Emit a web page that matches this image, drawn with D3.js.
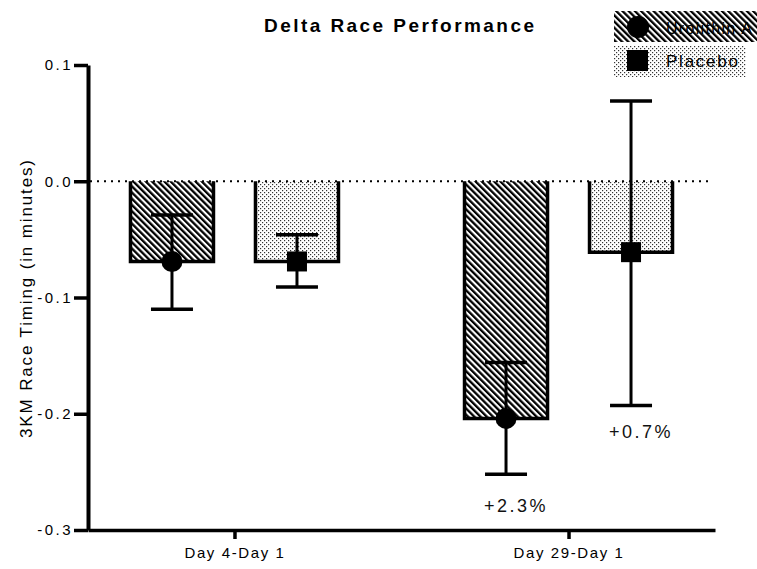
<!DOCTYPE html>
<html>
<head>
<meta charset="utf-8">
<script src="https://cdn.jsdelivr.net/npm/d3@7"></script>
<style>
  body { margin: 0; background: #fff; }
  svg { display: block; font-family: "Liberation Sans", Arial, sans-serif; }
</style>
</head>
<body>
<div id="chart"></div>
<script>
// Delta Race Performance — grouped bars with error bars
const categories = ["Day 4-Day 1", "Day 29-Day 1"];
const series = ["Urolithin A", "Placebo"];
const uroMean = [-0.069, -0.204];
const uroLow = [-0.110, -0.252];
const uroHigh = [-0.029, -0.156];
const placeboMean = [-0.069, -0.061];
const placeboLow = [-0.091, -0.193];
const placeboHigh = [-0.046, 0.069];
const uroNote = ["", "+2.3%"];
const placeboNote = ["", "+0.7%"];
const yTicks = [-0.3, -0.2, -0.1, 0.0, 0.1];

(function () {
  const W = 757, H = 569;
  const svg = d3.select("#chart").append("svg")
    .attr("width", W).attr("height", H);

  const defs = svg.append("defs");
  const hatch = defs.append("pattern")
    .attr("id", "hatch")
    .attr("patternUnits", "userSpaceOnUse")
    .attr("width", 4.4).attr("height", 10)
    .attr("patternTransform", "rotate(-45)");
  hatch.append("rect").attr("width", 4.4).attr("height", 10).attr("fill", "#fff");
  hatch.append("rect").attr("width", 2.3).attr("height", 10).attr("fill", "#000");

  const dots = defs.append("pattern")
    .attr("id", "dots")
    .attr("patternUnits", "userSpaceOnUse")
    .attr("width", 4).attr("height", 4);
  dots.append("rect").attr("width", 4).attr("height", 4).attr("fill", "#fff");
  dots.append("rect").attr("x", 0).attr("y", 0).attr("width", 1.2).attr("height", 1.2).attr("fill", "#333");
  dots.append("rect").attr("x", 2).attr("y", 2).attr("width", 1.2).attr("height", 1.2).attr("fill", "#333");

  const x0 = d3.scalePoint().domain(categories).range([88, 715]).padding(0.4385);
  const x1 = d3.scaleBand().domain(series).range([-104, 104]).paddingInner(0.336);
  const y = d3.scaleLinear().domain([-0.3, 0.1]).range([530, 65]);

  const rows = [];
  categories.forEach((c, i) => {
    rows.push({ cat: c, s: series[0], mean: uroMean[i], lo: uroLow[i], hi: uroHigh[i], note: uroNote[i], fill: "url(#hatch)" });
    rows.push({ cat: c, s: series[1], mean: placeboMean[i], lo: placeboLow[i], hi: placeboHigh[i], note: placeboNote[i], fill: "url(#dots)" });
  });

  const bx = d => x0(d.cat) + x1(d.s);
  const cx = d => bx(d) + x1.bandwidth() / 2;

  // bars: fill, then open-top outline
  svg.selectAll(".bar").data(rows).join("rect")
    .attr("class", "bar")
    .attr("x", bx)
    .attr("y", y(0))
    .attr("width", x1.bandwidth())
    .attr("height", d => y(d.mean) - y(0))
    .attr("fill", d => d.fill);

  svg.selectAll(".outline").data(rows).join("path")
    .attr("class", "outline")
    .attr("d", d => `M${bx(d)},${y(0)}V${y(d.mean)}H${bx(d) + x1.bandwidth()}V${y(0)}`)
    .attr("fill", "none")
    .attr("stroke", "#000")
    .attr("stroke-width", 3.5);

  // zero line
  svg.append("line")
    .attr("x1", 90).attr("x2", 713)
    .attr("y1", y(0)).attr("y2", y(0))
    .attr("stroke", "#000")
    .attr("stroke-width", 2)
    .attr("stroke-dasharray", "2 5");

  // error bars
  const capW = 42;
  svg.selectAll(".whisker").data(rows).join("line")
    .attr("class", "whisker")
    .attr("x1", cx).attr("x2", cx)
    .attr("y1", d => y(d.hi)).attr("y2", d => y(d.lo))
    .attr("stroke", "#000").attr("stroke-width", 3);
  ["hi", "lo"].forEach(k => {
    svg.selectAll(".cap-" + k).data(rows).join("line")
      .attr("class", "cap-" + k)
      .attr("x1", d => cx(d) - capW / 2).attr("x2", d => cx(d) + capW / 2)
      .attr("y1", d => y(d[k])).attr("y2", d => y(d[k]))
      .attr("stroke", "#000").attr("stroke-width", 3.5);
  });

  // markers
  svg.selectAll(".dot").data(rows.filter(d => d.s === series[0])).join("circle")
    .attr("class", "dot")
    .attr("cx", cx).attr("cy", d => y(d.mean))
    .attr("r", 10.5).attr("fill", "#000");
  svg.selectAll(".sq").data(rows.filter(d => d.s === series[1])).join("rect")
    .attr("class", "sq")
    .attr("x", d => cx(d) - 10).attr("y", d => y(d.mean) - 10)
    .attr("width", 20).attr("height", 20).attr("fill", "#000");

  // percent notes
  svg.selectAll(".note").data(rows.filter(d => d.note)).join("text")
    .attr("class", "note")
    .attr("x", d => cx(d) + 10)
    .attr("y", d => y(d.lo) + (d.s === series[0] ? 38 : 32))
    .attr("text-anchor", "middle")
    .attr("font-size", "18px")
    .attr("letter-spacing", "2.5px")
    .attr("fill", "#111")
    .text(d => d.note);

  // axes
  const yAxis = svg.append("g")
    .attr("transform", "translate(88,0)")
    .call(d3.axisLeft(y).tickValues(yTicks).tickSize(14).tickSizeOuter(0).tickPadding(1)
      .tickFormat(d => d.toFixed(1)));
  yAxis.select(".domain").attr("stroke-width", 4);
  yAxis.selectAll(".tick line").attr("stroke-width", 3.5);
  yAxis.selectAll(".tick text")
    .attr("font-size", "15px").attr("letter-spacing", "2.5px").attr("fill", "#000");

  const xAxis = svg.append("g")
    .attr("transform", "translate(0,530)")
    .call(d3.axisBottom(x0).tickSize(9).tickSizeOuter(0).tickPadding(8));
  xAxis.select(".domain").attr("stroke-width", 3.5);
  xAxis.selectAll(".tick line").attr("stroke-width", 3.5);
  xAxis.selectAll(".tick text")
    .attr("font-size", "15px").attr("letter-spacing", "1.6px").attr("fill", "#000");

  // titles
  svg.append("text")
    .attr("x", 399).attr("y", 32)
    .attr("text-anchor", "middle")
    .attr("font-size", "19px").attr("font-weight", "bold")
    .attr("textLength", 270).attr("lengthAdjust", "spacing")
    .text("Delta Race Performance");

  svg.append("text")
    .attr("transform", "rotate(-90)")
    .attr("x", -299).attr("y", 32)
    .attr("text-anchor", "middle")
    .attr("font-size", "17px")
    .attr("textLength", 278).attr("lengthAdjust", "spacing")
    .text("3KM Race Timing (in minutes)");

  // legend
  const lg = svg.append("g");
  lg.append("rect").attr("x", 614).attr("y", 11).attr("width", 143).attr("height", 31).attr("fill", "url(#hatch)");
  lg.append("rect").attr("x", 614).attr("y", 46).attr("width", 132).attr("height", 31).attr("fill", "url(#dots)");
  lg.append("circle").attr("cx", 638).attr("cy", 27).attr("r", 11).attr("fill", "#000");
  lg.append("rect").attr("x", 627).attr("y", 50).attr("width", 21).attr("height", 21).attr("fill", "#000");
  lg.append("text").attr("x", 666).attr("y", 34)
    .attr("font-size", "16px").attr("fill", "#000")
    .attr("textLength", 86).attr("lengthAdjust", "spacing")
    .text(series[0]);
  lg.append("text").attr("x", 666).attr("y", 67)
    .attr("font-size", "17px").attr("fill", "#000")
    .attr("textLength", 72).attr("lengthAdjust", "spacing")
    .text(series[1]);
})();
</script>
</body>
</html>
